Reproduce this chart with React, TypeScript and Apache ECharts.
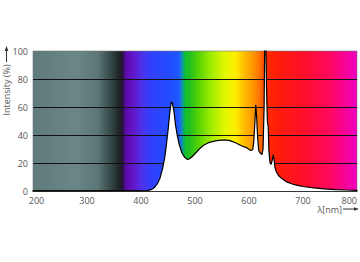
import React, { useEffect, useRef } from 'react';
import * as echarts from 'echarts';

// Spectrum: wavelength (nm) and relative intensity (%)
const wavelengths = [
  200, 400, 410, 415, 420, 425, 430, 435, 440, 444, 447, 450, 453, 456, 458, 461, 464, 467, 471, 476,
  481, 486, 490, 496, 502, 508, 515, 525, 540, 555, 565, 575, 585, 595, 603, 607, 609, 611, 612.5, 614,
  616, 618, 621, 624, 626, 628, 629.5, 631, 632.5, 634, 635.5, 637, 639, 641, 643, 645, 646.5, 648, 650, 653,
  656, 662, 670, 680, 690, 700, 720, 740, 760, 780, 800,
];
const intensity = [
  0, 0, 0.3, 0.6, 1.2, 2.5, 5, 9, 16, 24, 33, 43, 55, 63.5, 63, 57, 47, 40, 33, 27,
  24, 22.5, 23, 25, 27.5, 30, 32.5, 34.5, 36, 36.5, 36, 34.5, 32.5, 31, 29, 29.5, 36, 50, 61.6, 54,
  38, 29, 27, 26, 30, 60, 120, 110, 72, 50, 46, 28, 20, 19, 22, 26, 22, 17, 14.5, 12,
  10.5, 8.5, 6.5, 5, 4, 3.2, 2.2, 1.5, 1, 0.7, 0.5,
];

const xMin = 200;
const xMax = 800;
const xStep = 100;
const yMin = 0;
const yMax = 100;
const yStep = 20;
const xName = 'λ[nm]';
const yName = 'Intensity (%)';

// background colour stops along wavelength
const bgNm = [200, 280, 320, 345, 360, 366, 372, 385, 400, 420, 460, 470, 476, 482, 490, 510, 530, 555, 575, 590, 610, 622, 632, 660, 700, 750, 800];
const bgColors = [
  '#5f7a7a', '#6a8686', '#5c7676', '#344646', '#1c2424', '#2a1040', '#5a0aa8', '#6414c8', '#5030e8', '#3040ff',
  '#2050ff', '#2058ff', '#1090b0', '#10c030', '#20c020', '#60d800', '#a0ec00', '#e0f800', '#ffee00', '#ffc000',
  '#ff9000', '#ff6800', '#ff2a00', '#ff1a10', '#ff1028', '#ff0860', '#f000c0',
];

export default function App() {
  const ref = useRef<HTMLDivElement>(null);
  useEffect(() => {
    document.body.style.margin = '0';
    const chart = echarts.init(ref.current!, null, { renderer: 'svg' });
    const stops = bgNm.map((nm, i) => ({ offset: (nm - xMin) / (xMax - xMin), color: bgColors[i] }));
    const data = wavelengths.map((w, i) => [w, intensity[i]]);
    const font = 'Open Sans';
    const txt = '#555';
    chart.setOption({
      animation: false,
      grid: {
        left: 33,
        top: 51,
        width: 325,
        height: 140,
        show: true,
        backgroundColor: new echarts.graphic.LinearGradient(0, 0, 1, 0, stops),
        borderColor: '#777',
        borderWidth: 0.6,
      },
      xAxis: {
        type: 'value',
        min: xMin,
        max: xMax,
        interval: xStep,
        axisLine: { show: true, onZero: false, lineStyle: { color: '#000', width: 1.5 } },
        axisTick: { show: false },
        splitLine: { show: false },
        axisLabel: {
          margin: 5,
          fontSize: 9,
          lineHeight: 9,
          color: txt,
          fontFamily: font,
          alignMaxLabel: 'right',
          formatter: (v: number) => (v === xMin ? '' : String(v)),
        },
      },
      yAxis: {
        type: 'value',
        min: yMin,
        max: yMax,
        interval: yStep,
        axisLine: { show: false },
        axisTick: { show: false },
        splitLine: {
          show: true,
          lineStyle: { color: ['rgba(0,0,0,0)', '#111', '#111', '#111', '#111', 'rgba(0,0,0,0)'], width: 1 },
        },
        axisLabel: { margin: 5, fontSize: 9, lineHeight: 9, color: txt, fontFamily: font },
      },
      series: [
        {
          type: 'line',
          data,
          symbol: 'none',
          clip: true,
          lineStyle: { color: '#000', width: 1.2 },
          areaStyle: { color: '#fff', opacity: 1 },
          z: 3,
        },
      ],
      graphic: [
        {
          type: 'text',
          x: 36.5,
          y: 200.5,
          style: { text: String(xMin), align: 'center', verticalAlign: 'middle', fontSize: 9, fill: txt, fontFamily: font },
        },
        {
          type: 'text',
          x: 6.5,
          y: 90,
          rotation: Math.PI / 2,
          style: { text: yName, align: 'center', verticalAlign: 'middle', fontSize: 9, fill: txt, fontFamily: font },
        },
        { type: 'line', shape: { x1: 6.5, y1: 62, x2: 6.5, y2: 50 }, style: { stroke: '#333', lineWidth: 1 } },
        { type: 'polygon', shape: { points: [[6.5, 46], [4.6, 51], [8.4, 51]] }, style: { fill: '#333' } },
        {
          type: 'text',
          x: 342,
          y: 209,
          style: { text: xName, align: 'right', verticalAlign: 'middle', fontSize: 9, fill: txt, fontFamily: font },
        },
        { type: 'line', shape: { x1: 343, y1: 209, x2: 355, y2: 209 }, style: { stroke: '#333', lineWidth: 1 } },
        { type: 'polygon', shape: { points: [[359, 209], [354, 207.2], [354, 210.8]] }, style: { fill: '#333' } },
      ],
    });
    return () => chart.dispose();
  }, []);
  return <div ref={ref} style={{ width: 360, height: 262 }} />;
}
